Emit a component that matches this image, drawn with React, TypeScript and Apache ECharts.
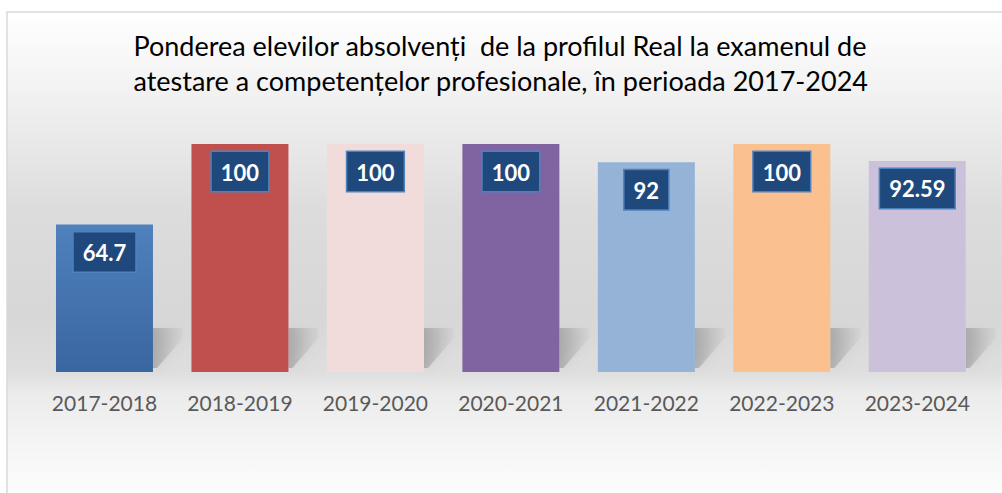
import React, { useEffect, useRef } from "react";
import * as echarts from "echarts";

const titleLines = [
  "Ponderea elevilor absolvenți  de la profilul Real la examenul de",
  "atestare a competențelor profesionale, în perioada 2017-2024",
];
const categories = ["2017-2018", "2018-2019", "2019-2020", "2020-2021", "2021-2022", "2022-2023", "2023-2024"];
const values = [64.7, 100, 100, 100, 92, 100, 92.59];
const barColors: any[] = [
  { type: "linear", x: 0, y: 0, x2: 0, y2: 1, colorStops: [{ offset: 0, color: "#4f81bd" }, { offset: 1, color: "#3a66a0" }] },
  "#c0504d",
  "#f2dcdb",
  "#8064a2",
  "#95b3d7",
  "#fac090",
  "#ccc1da",
];

const FONT = "Lato, 'Open Sans', sans-serif";

export default function App() {
  const ref = useRef<HTMLDivElement>(null);
  useEffect(() => {
    if (!ref.current) return;
    const chart = echarts.init(ref.current, null, { renderer: "svg" });
    const barWidthRatio = 0.716;
    chart.setOption({
      animation: false,
      backgroundColor: "#ffffff",
      graphic: [
        {
          type: "rect",
          z: -10,
          silent: true,
          shape: { x: 7, y: 12, width: 1010, height: 500 },
          style: {
            fill: {
              type: "linear", x: 0, y: 0, x2: 0, y2: 1,
              colorStops: [
                { offset: 0, color: "#ffffff" },
                { offset: 0.18, color: "#f0f0f0" },
                { offset: 0.4, color: "#dcdcdc" },
                { offset: 0.6, color: "#d7d7d7" },
                { offset: 0.72, color: "#dedede" },
                { offset: 0.76, color: "#ebebeb" },
                { offset: 0.88, color: "#f6f6f6" },
                { offset: 1, color: "#ffffff" },
              ],
            },
            stroke: "#d9d9d9",
            lineWidth: 1.5,
          },
        },
        {
          type: "text",
          left: "center",
          top: 28,
          style: {
            text: titleLines.join("\n"),
            font: `27px ${FONT}`,
            fill: "#000000",
            lineHeight: 35,
            align: "center",
          },
        },
      ],
      grid: { left: 36.75, right: 17, top: 144, bottom: 121, containLabel: false },
      xAxis: {
        type: "category",
        data: categories,
        axisLine: { show: false },
        axisTick: { show: false },
        axisLabel: { color: "#595959", fontSize: 21, fontFamily: FONT, margin: 20, interval: 0 },
      },
      yAxis: { type: "value", min: 0, max: 100, show: false, splitLine: { show: false } },
      series: [
        {
          type: "custom",
          z: 1,
          silent: true,
          data: values,
          renderItem: (params: any, api: any) => {
            const idx = params.dataIndex;
            const base = api.coord([idx, 0]);
            const band = api.size([1, 0])[0];
            const r = base[0] + (band * barWidthRatio) / 2;
            const y = base[1];
            return {
              type: "polygon",
              shape: {
                points: [
                  [r, y - 44],
                  [r + 30, y - 44],
                  [r + 30, y - 34],
                  [r + 4, y - 4],
                  [r, y - 4],
                ],
              },
              style: {
                fill: {
                  type: "linear", x: 0, y: 0, x2: 1, y2: 0,
                  colorStops: [
                    { offset: 0, color: "rgba(120,120,120,0.45)" },
                    { offset: 1, color: "rgba(160,160,160,0.08)" },
                  ],
                },
                shadowBlur: 12,
                shadowColor: "rgba(140,140,140,0.45)",
              },
            };
          },
        },
        {
          type: "bar",
          z: 2,
          barWidth: "71.6%",
          data: values.map((v, i) => ({ value: v, itemStyle: { color: barColors[i] } })),
          label: {
            show: true,
            position: "insideTop",
            distance: 8,
            color: "#ffffff",
            fontFamily: FONT,
            fontWeight: "bold",
            fontSize: 22,
            backgroundColor: "#1f497d",
            borderColor: "#4f81bd",
            borderWidth: 1.5,
            padding: [8, 9, 7, 9],
            lineHeight: 24,
          },
        },
      ],
    });
    return () => chart.dispose();
  }, []);
  return <div ref={ref} style={{ position: "fixed", left: 0, top: 0, width: 1002, height: 493 }} />;
}
